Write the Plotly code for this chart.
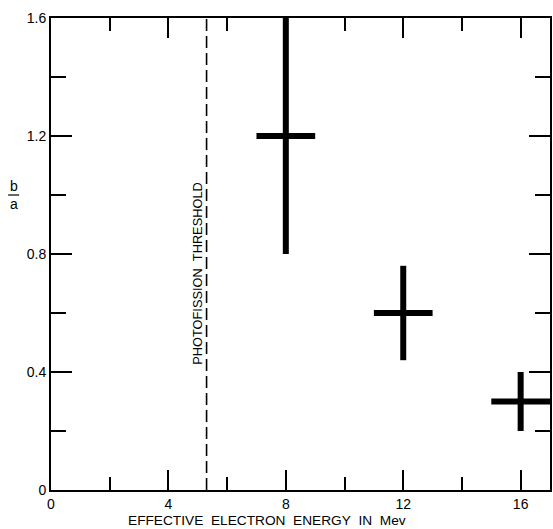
import plotly.graph_objects as go

# Data
energy = [8, 12, 16]
ratio = [1.2, 0.6, 0.3]
energy_err = [1.0, 1.0, 1.0]
ratio_err = [0.4, 0.16, 0.1]
threshold = 5.3
x_ticks = [0, 4, 8, 12, 16]
y_ticks = [0, 0.4, 0.8, 1.2, 1.6]
y_tick_text = ["0", "0.4", "0.8", "1.2", "1.6"]

W, H = 553, 529
L, R, T, B = 51, 1, 18, 39
pw, ph = W - L - R, H - T - B

def px_x(p):
    return (p - L) / pw

def px_y(p):
    return (H - B - p) / ph

FONT = "Liberation Sans"

fig = go.Figure()
fig.add_trace(go.Scatter(
    x=energy, y=ratio, mode="markers",
    marker=dict(size=1, color="black", opacity=0),
    error_x=dict(type="data", array=energy_err, visible=True,
                 thickness=6, width=0, color="black"),
    error_y=dict(type="data", array=ratio_err, visible=True,
                 thickness=6, width=0, color="black"),
    showlegend=False, hoverinfo="skip",
))

fig.add_shape(type="line", xref="x", yref="y",
              x0=threshold, x1=threshold, y0=0, y1=1.6,
              line=dict(color="black", width=1.6, dash="12px,5px"))

axis_common = dict(
    showgrid=False, zeroline=False, showline=True, linecolor="black",
    linewidth=2, mirror="ticks", ticks="inside", tickcolor="black",
    tickwidth=2, tickfont=dict(family=FONT, size=14, color="black"),
)

fig.update_xaxes(range=[0, 17], tickvals=x_ticks, ticklen=20,
                 minor=dict(dtick=2, tick0=0, ticks="inside", ticklen=13,
                            tickwidth=2, tickcolor="black"),
                 **axis_common)
fig.update_yaxes(range=[0, 1.6], tickvals=y_ticks, ticktext=y_tick_text,
                 ticklen=21,
                 minor=dict(dtick=0.2, tick0=0, ticks="inside", ticklen=15,
                            tickwidth=2, tickcolor="black"),
                 **axis_common)

fig.add_annotation(x=threshold, y=0.735, xref="x", yref="y",
                   text="PHOTOFISSION\u00a0\u00a0THRESHOLD", textangle=-90,
                   showarrow=False, xshift=-9,
                   font=dict(family=FONT, size=12.8, color="black"))

fig.add_annotation(x=px_x(268), y=px_y(520), xref="paper", yref="paper",
                   text="EFFECTIVE\u00a0\u00a0ELECTRON\u00a0\u00a0ENERGY\u00a0\u00a0IN\u00a0\u00a0Mev",
                   showarrow=False, xanchor="center", yanchor="middle",
                   font=dict(family=FONT, size=13.7, color="black"))

fig.add_annotation(x=px_x(14), y=px_y(186), xref="paper", yref="paper",
                   text="b", showarrow=False, xanchor="center", yanchor="middle",
                   font=dict(family=FONT, size=14, color="black"))
fig.add_annotation(x=px_x(14), y=px_y(204), xref="paper", yref="paper",
                   text="a", showarrow=False, xanchor="center", yanchor="middle",
                   font=dict(family=FONT, size=14, color="black"))
fig.add_shape(type="line", xref="paper", yref="paper",
              x0=px_x(8), x1=px_x(19), y0=px_y(195), y1=px_y(195),
              line=dict(color="black", width=1.2))

fig.update_layout(
    width=W, height=H,
    margin=dict(l=L, r=R, t=T, b=B),
    paper_bgcolor="white", plot_bgcolor="white",
    font=dict(family=FONT, color="black"),
)

fig.write_html("out.html", config={"displayModeBar": False},
               post_script="document.body.style.margin='0';document.body.style.overflow='hidden';")
